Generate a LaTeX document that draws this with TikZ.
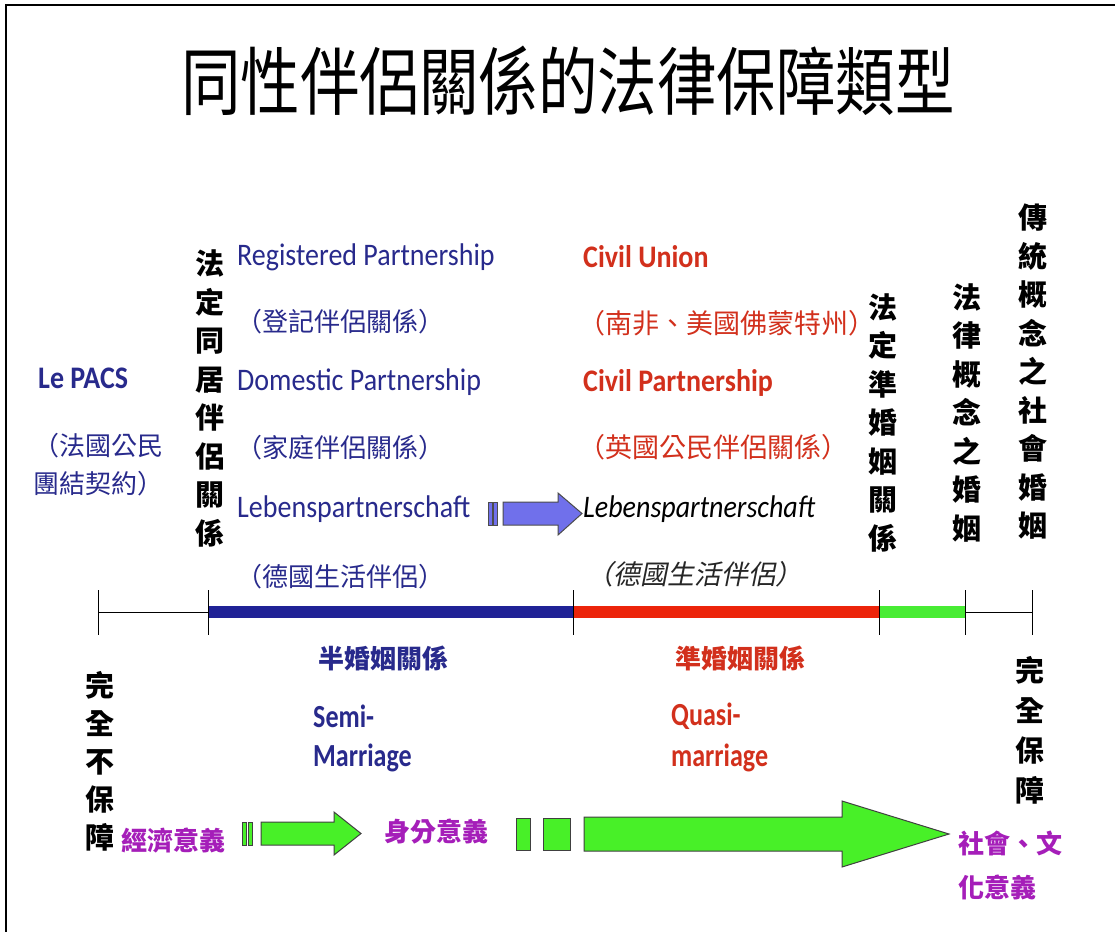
\documentclass[tikz,border=0pt]{standalone}
\usepackage{fontspec}
\setmainfont{Carlito}
\newfontfamily\cjk{Noto Sans CJK TC}
\newfontfamily\cjksl[FakeSlant=0.2]{Noto Sans CJK TC}
\definecolor{navy}{RGB}{40,42,140}
\definecolor{redtxt}{RGB}{210,48,28}
\definecolor{magtxt}{RGB}{165,30,185}
\definecolor{bandblue}{RGB}{32,34,150}
\definecolor{bandred}{RGB}{236,36,10}
\definecolor{bandgreen}{RGB}{72,236,52}
\definecolor{arrgreen}{RGB}{72,240,40}
\definecolor{arrblue}{RGB}{112,112,235}
\begin{document}
\begin{tikzpicture}[x=1pt,y=-1pt,
  en/.style={font=\fontsize{28}{30}\selectfont, yscale=1.12, inner sep=0pt, anchor=west},
  enb/.style={font=\bfseries\fontsize{28}{30}\selectfont, yscale=1.12, inner sep=0pt, anchor=west},
  encond/.style={font=\bfseries\fontsize{28}{30}\selectfont, xscale=0.93, yscale=1.15, inner sep=0pt, anchor=west},
  zh/.style={font=\cjk\fontsize{26}{38}\selectfont, inner sep=0pt, anchor=west, align=left},
  zhb/.style={font=\cjk\bfseries\fontsize{26}{38}\selectfont, inner sep=0pt},
  vert/.style={font=\cjk\bfseries\fontsize{29}{38.5}\selectfont, align=center, inner sep=0pt},
  vertw/.style={font=\cjk\bfseries\fontsize{29}{40}\selectfont, align=center, inner sep=0pt},
  tick/.style={draw=black, line width=0.8pt},
  garrow/.style={fill=arrgreen, draw=black!75, line width=1pt, line join=miter},
  barrow/.style={fill=arrblue, draw=black!70, line width=1pt, line join=miter}]
\useasboundingbox (0,0) rectangle (1115,932);
\fill[white] (0,0) rectangle (1115,932);
\draw[line width=2pt] (5,5) -- (1115,5);
\draw[line width=2pt] (6,5) -- (6,932);

% title
\node[font=\cjk\fontsize{70}{80}\selectfont, xscale=0.85, yscale=1.06, inner sep=0pt] (title) at (568,81) {同性伴侶關係的法律保障類型};

% left
\node[enb, text=navy] (pacs) at (38,378) {Le PACS};
\node[zh, text=navy] (pacszh) at (33,465) {（法國公民\\團結契約）};

\node[vert] (v1) at (210,398.5) {法\\定\\同\\居\\伴\\侶\\關\\係};

% blue column
\node[en, text=navy] (rp) at (237,257) {Registered Partnership};
\node[zh, text=navy] (rpzh) at (236,322) {（登記伴侶關係）};
\node[en, text=navy] (dp) at (237,382) {Domestic Partnership};
\node[zh, text=navy] (dpzh) at (236,448) {（家庭伴侶關係）};
\node[en, text=navy] (lp) at (237,509) {Lebenspartnerschaft};
\node[zh, text=navy] (lpzh) at (236,577) {（德國生活伴侶）};

% red column
\node[enb, text=redtxt] (cu) at (583,257) {Civil Union};
\node[zh, text=redtxt, font=\cjk\fontsize{27}{38}\selectfont] (cuzh) at (578,323) {（南非、美國佛蒙特州）};
\node[enb, text=redtxt] (cp) at (583,383) {Civil Partnership};
\node[zh, text=redtxt, font=\cjk\fontsize{27}{38}\selectfont] (cpzh) at (578,447) {（英國公民伴侶關係）};
\node[en, font=\itshape\fontsize{28}{30}\selectfont, text=black] (lp2) at (583,509) {Lebenspartnerschaft};
\node[zh, font=\cjksl\fontsize{27}{38}\selectfont, text=black!85] (lp2zh) at (586,574) {（德國生活伴侶）};

% right verticals
\node[vert] (v2) at (883,422.5) {法\\定\\準\\婚\\姻\\關\\係};
\node[vert] (v3) at (967,412.5) {法\\律\\概\\念\\之\\婚\\姻};
\node[vert] (v4) at (1033,372) {傳\\統\\概\\念\\之\\社\\會\\婚\\姻};

% blue arrow
\draw[barrow] (488,502) rectangle (492,525);
\draw[barrow] (493.5,502) rectangle (497.5,525);
\draw[barrow] (503,502) -- (558,502) -- (558,493) -- (582,513.5) -- (558,535) -- (558,525) -- (503,525) -- cycle;

% timeline
\coordinate (t0) at (98,612);
\coordinate (t1) at (208,612);
\coordinate (t2) at (573,612);
\coordinate (t3) at (879,612);
\coordinate (t4) at (965,612);
\coordinate (t5) at (1032,612);
\draw[line width=1pt] (t0) -- (t1);
\draw[line width=1pt] (t4) -- (t5);
\draw[line width=12pt, bandblue] (t1) -- (t2);
\draw[line width=12pt, bandred] (t2) -- (t3);
\draw[line width=12pt, bandgreen] (t3) -- (t4);
\foreach \t in {t0,t1,t2,t3,t4,t5} {
  \draw[tick] (\t) ++(0,-22) -- ++(0,45);
}

% below timeline
\node[zhb, text=navy] (semizh) at (383,658) {半婚姻關係};
\node[zhb, text=redtxt] (quasizh) at (740,658) {準婚姻關係};
\node[encond, text=navy] (semi1) at (313,716) {Semi-};
\node[encond, text=navy] (semi2) at (313,758) {Marriage};
\node[encond, text=redtxt] (quasi1) at (671,716) {Quasi-};
\node[encond, text=redtxt] (quasi2) at (671,758) {marriage};

\node[vert, font=\cjk\bfseries\fontsize{29}{38}\selectfont] (none) at (100,761) {完\\全\\不\\保\\障};
\node[vertw] (full) at (1030,730) {完\\全\\保\\障};

% magenta
\node[zhb, text=magtxt] (econ) at (173,840) {經濟意義};
\node[zhb, text=magtxt] (status) at (436,832) {身分意義};
\node[zhb, text=magtxt, anchor=west] (soc1) at (958,843) {社會、文};
\node[zhb, text=magtxt, anchor=west] (soc2) at (958,887) {化意義};

% green arrows
\draw[garrow] (242,822) rectangle (246,845);
\draw[garrow] (248,822) rectangle (252,845);
\draw[garrow] (261,822) -- (334,822) -- (334,812) -- (361,833.5) -- (334,855) -- (334,845) -- (261,845) -- cycle;
\draw[garrow] (516,818) rectangle (530,850);
\draw[garrow] (543,818) rectangle (570,850);
\draw[garrow] (584,817) -- (842,817) -- (842,801) -- (949,834) -- (842,867) -- (842,851) -- (584,851) -- cycle;
\end{tikzpicture}
\end{document}
